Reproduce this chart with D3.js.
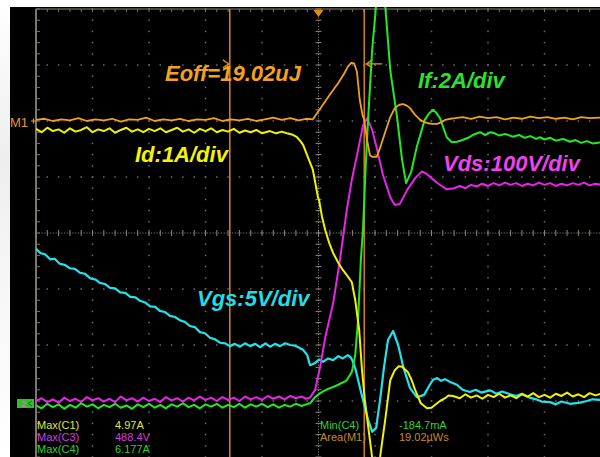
<!DOCTYPE html>
<html>
<head>
<meta charset="utf-8">
<script src="https://cdn.jsdelivr.net/npm/d3@7"></script>
<style>
  html, body { margin: 0; padding: 0; background: #fff; overflow: hidden; }
  svg { display: block; }
</style>
</head>
<body>
<svg id="scope" width="600" height="457"></svg>
<script>
// Screen grid: 10 horizontal divisions, 8 vertical divisions (centre = 0).
const timeDivs = [0, 10];
const voltDivs = [-4, 4];

// Turn-off waveforms, [time (div), level (div)]
const mathM1 = [
  [0.00,2.02],[0.15,2.04],[0.30,2.00],[0.45,2.03],[0.60,2.01],[0.75,2.05],[0.90,2.00],[1.05,2.03],[1.20,2.01],[1.35,2.04],
  [1.50,1.99],[1.65,2.03],[1.80,2.02],[1.95,2.06],[2.10,2.00],[2.25,2.03],[2.40,2.01],[2.55,2.04],[2.70,2.00],[2.85,2.03],
  [3.00,2.02],[3.15,2.05],[3.30,2.00],[3.45,2.03],[3.60,2.01],[3.75,2.04],[3.90,2.00],[4.05,2.03],[4.20,2.06],[4.35,2.02],
  [4.50,2.05],[4.65,2.01],[4.78,2.04],[4.90,2.03],[5.05,2.25],[5.20,2.47],[5.35,2.68],[5.45,2.84],[5.52,2.97],[5.58,3.04],
  [5.63,3.03],[5.68,2.88],[5.73,2.38],[5.78,2.10],[5.81,2.02],[5.86,1.66],[5.91,1.39],[5.95,1.36],[6.03,1.36],[6.09,1.52],
  [6.18,1.80],[6.27,2.07],[6.35,2.23],[6.43,2.29],[6.50,2.30],[6.57,2.27],[6.62,2.23],[6.71,2.11],[6.80,2.02],[6.87,1.98],
  [6.94,1.96],[7.02,1.95],[7.10,1.95],[7.18,1.98],[7.24,2.02],[7.33,2.04],[7.42,2.05],[7.55,2.07],[7.70,2.04],[7.85,2.08],
  [8.00,2.05],[8.15,2.07],[8.30,2.03],[8.45,2.06],[8.60,2.04],[8.75,2.08],[8.90,2.05],[9.05,2.07],[9.20,2.04],[9.35,2.06],
  [9.50,2.03],[9.65,2.07],[9.80,2.05],[10.00,2.06]
];

const idC1 = [
  [0.00,1.86],[0.10,1.80],[0.20,1.88],[0.30,1.82],[0.40,1.85],[0.50,1.79],[0.60,1.87],[0.70,1.81],[0.80,1.84],[0.90,1.89],
  [1.00,1.80],[1.10,1.85],[1.20,1.82],[1.30,1.87],[1.40,1.79],[1.50,1.84],[1.60,1.88],[1.70,1.81],[1.80,1.85],[1.90,1.80],
  [2.00,1.86],[2.10,1.82],[2.20,1.87],[2.30,1.80],[2.40,1.84],[2.50,1.88],[2.60,1.81],[2.70,1.85],[2.80,1.79],[2.90,1.86],
  [3.00,1.82],[3.10,1.87],[3.20,1.80],[3.30,1.84],[3.40,1.81],[3.50,1.86],[3.60,1.79],[3.70,1.83],[3.80,1.80],[3.90,1.84],
  [4.00,1.78],[4.14,1.82],[4.25,1.78],[4.35,1.81],[4.44,1.78],[4.53,1.76],[4.62,1.71],[4.68,1.64],[4.73,1.57],[4.81,1.36],
  [4.90,1.13],[4.99,0.64],[5.01,0.59],[5.06,0.30],[5.12,0.05],[5.19,-0.18],[5.26,-0.36],[5.35,-0.53],[5.43,-0.66],[5.52,-0.78],
  [5.59,-0.88],[5.65,-1.20],[5.72,-1.73],[5.77,-2.45],[5.82,-2.98],[5.88,-3.46],[5.96,-4.09],[6.02,-4.23],[6.09,-4.00],[6.18,-3.34],
  [6.27,-2.63],[6.35,-2.45],[6.42,-2.38],[6.48,-2.39],[6.58,-2.48],[6.65,-2.63],[6.71,-2.80],[6.81,-3.04],[6.92,-3.13],[7.00,-3.12],
  [7.06,-3.07],[7.15,-3.00],[7.24,-2.95],[7.30,-2.90],[7.38,-2.91],[7.50,-2.95],[7.60,-2.88],[7.70,-2.94],[7.80,-2.90],[7.90,-2.96],
  [8.00,-2.89],[8.10,-2.93],[8.20,-2.87],[8.30,-2.94],[8.40,-2.90],[8.50,-2.95],[8.60,-2.88],[8.70,-2.92],[8.80,-2.86],[8.90,-2.93],
  [9.00,-2.89],[9.10,-2.94],[9.20,-2.87],[9.30,-2.91],[9.40,-2.85],[9.50,-2.92],[9.60,-2.88],[9.70,-2.93],[9.80,-2.86],[9.90,-2.90],
  [10.00,-2.87]
];

const vdsC3 = [
  [0.00,-3.00],[0.10,-2.95],[0.20,-3.02],[0.30,-2.97],[0.40,-3.03],[0.50,-2.94],[0.60,-3.00],[0.70,-2.96],[0.80,-3.02],[0.90,-2.93],
  [1.00,-2.99],[1.10,-2.95],[1.20,-3.01],[1.30,-2.96],[1.40,-3.02],[1.50,-2.92],[1.60,-2.99],[1.70,-2.95],[1.80,-3.01],[1.90,-2.94],
  [2.00,-3.00],[2.10,-2.96],[2.20,-3.02],[2.30,-2.93],[2.40,-2.99],[2.50,-2.95],[2.60,-3.01],[2.70,-2.94],[2.80,-2.99],[2.90,-2.92],
  [3.00,-2.98],[3.10,-2.94],[3.20,-3.00],[3.30,-2.93],[3.40,-2.98],[3.50,-2.94],[3.60,-3.00],[3.70,-2.92],[3.80,-2.97],[3.90,-2.93],
  [4.00,-2.98],[4.10,-2.91],[4.20,-2.96],[4.30,-2.92],[4.40,-2.97],[4.50,-2.91],[4.60,-2.95],[4.70,-2.92],[4.78,-2.96],[4.85,-2.94],
  [4.94,-2.80],[5.03,-2.39],[5.12,-1.86],[5.26,-1.25],[5.38,-0.48],[5.50,0.41],[5.59,0.95],[5.70,1.48],[5.79,1.93],[5.86,2.05],
  [5.95,1.84],[6.04,1.48],[6.14,1.04],[6.27,0.64],[6.35,0.50],[6.44,0.52],[6.57,0.77],[6.71,0.98],[6.83,1.10],[6.92,1.05],
  [7.00,0.98],[7.12,0.88],[7.27,0.78],[7.40,0.80],[7.50,0.84],[7.60,0.80],[7.70,0.86],[7.80,0.83],[7.90,0.88],[8.00,0.84],
  [8.10,0.89],[8.20,0.85],[8.30,0.90],[8.40,0.86],[8.50,0.89],[8.60,0.84],[8.70,0.88],[8.80,0.85],[8.90,0.90],[9.00,0.86],
  [9.10,0.89],[9.20,0.84],[9.30,0.88],[9.40,0.85],[9.50,0.89],[9.60,0.86],[9.70,0.90],[9.80,0.85],[9.90,0.88],[10.00,0.86]
];

const ifC4 = [
  [0.00,-3.08],[0.10,-3.13],[0.20,-3.05],[0.30,-3.11],[0.40,-3.06],[0.50,-3.14],[0.60,-3.07],[0.70,-3.12],[0.80,-3.04],[0.90,-3.10],
  [1.00,-3.06],[1.10,-3.13],[1.20,-3.07],[1.30,-3.11],[1.40,-3.05],[1.50,-3.12],[1.60,-3.08],[1.70,-3.14],[1.80,-3.06],[1.90,-3.11],
  [2.00,-3.05],[2.10,-3.12],[2.20,-3.07],[2.30,-3.13],[2.40,-3.06],[2.50,-3.10],[2.60,-3.04],[2.70,-3.11],[2.80,-3.07],[2.90,-3.13],
  [3.00,-3.06],[3.10,-3.10],[3.20,-3.05],[3.30,-3.12],[3.40,-3.07],[3.50,-3.11],[3.60,-3.05],[3.70,-3.12],[3.80,-3.06],[3.90,-3.10],
  [4.00,-3.05],[4.10,-3.11],[4.20,-3.06],[4.30,-3.12],[4.40,-3.07],[4.50,-3.10],[4.60,-3.05],[4.70,-3.09],[4.78,-3.06],[4.85,-3.04],
  [4.94,-2.93],[5.03,-2.86],[5.10,-2.82],[5.18,-2.78],[5.26,-2.75],[5.35,-2.71],[5.43,-2.67],[5.50,-2.63],[5.59,-2.48],[5.65,-2.18],
  [5.70,-1.55],[5.75,-0.48],[5.79,0.11],[5.84,1.30],[5.88,2.07],[5.95,3.27],[6.02,4.07],[6.09,4.50],[6.18,4.07],[6.27,2.91],
  [6.39,2.07],[6.48,1.30],[6.55,0.89],[6.64,1.09],[6.74,1.54],[6.88,2.02],[6.96,2.14],[7.03,2.20],[7.09,2.14],[7.15,2.05],
  [7.27,1.71],[7.36,1.62],[7.45,1.63],[7.55,1.66],[7.65,1.70],[7.75,1.76],[7.86,1.80],[7.95,1.75],[8.05,1.80],[8.12,1.78],
  [8.20,1.74],[8.30,1.77],[8.44,1.72],[8.55,1.75],[8.65,1.70],[8.75,1.73],[8.85,1.68],[8.92,1.71],[9.00,1.67],[9.10,1.70],
  [9.20,1.65],[9.33,1.68],[9.45,1.63],[9.55,1.66],[9.65,1.61],[9.75,1.64],[9.85,1.60],[10.00,1.62]
];

const vgsC2 = [
  [0.00,-0.28],[0.08,-0.36],[0.16,-0.38],[0.25,-0.47],[0.33,-0.46],[0.42,-0.55],[0.51,-0.57],[0.60,-0.63],[0.69,-0.64],[0.78,-0.71],
  [0.87,-0.73],[0.96,-0.81],[1.05,-0.83],[1.13,-0.89],[1.22,-0.91],[1.31,-0.98],[1.40,-0.99],[1.49,-1.06],[1.58,-1.07],[1.67,-1.14],
  [1.76,-1.15],[1.84,-1.21],[1.93,-1.24],[2.02,-1.31],[2.11,-1.32],[2.19,-1.39],[2.28,-1.41],[2.37,-1.48],[2.46,-1.50],[2.55,-1.56],
  [2.64,-1.59],[2.72,-1.66],[2.81,-1.68],[2.90,-1.77],[2.99,-1.79],[3.08,-1.87],[3.17,-1.90],[3.26,-1.96],[3.35,-1.97],[3.43,-2.02],
  [3.52,-1.98],[3.61,-2.03],[3.70,-1.97],[3.79,-2.02],[3.88,-1.98],[3.97,-2.04],[4.06,-1.97],[4.14,-2.03],[4.23,-1.98],[4.32,-2.02],
  [4.41,-1.97],[4.50,-2.00],[4.58,-2.01],[4.66,-2.05],[4.73,-2.09],[4.80,-2.18],[4.85,-2.36],[4.94,-2.32],[5.01,-2.26],[5.08,-2.30],
  [5.17,-2.24],[5.26,-2.27],[5.35,-2.20],[5.43,-2.24],[5.52,-2.18],[5.57,-2.22],[5.61,-2.30],[5.66,-2.45],[5.73,-2.75],[5.81,-3.07],
  [5.88,-3.34],[5.95,-3.55],[6.02,-3.48],[6.09,-2.98],[6.16,-2.39],[6.23,-1.91],[6.32,-1.75],[6.41,-2.00],[6.50,-2.39],[6.62,-2.77],
  [6.74,-2.93],[6.87,-2.89],[6.97,-2.71],[7.03,-2.62],[7.10,-2.59],[7.17,-2.64],[7.24,-2.61],[7.33,-2.66],[7.45,-2.71],[7.55,-2.80],
  [7.68,-2.84],[7.78,-2.80],[7.88,-2.85],[8.04,-2.81],[8.15,-2.87],[8.25,-2.83],[8.39,-2.88],[8.50,-2.91],[8.60,-2.87],[8.74,-2.94],
  [8.85,-2.97],[8.95,-3.01],[9.10,-3.02],[9.20,-3.06],[9.30,-3.01],[9.45,-3.05],[9.63,-3.03],[9.75,-3.00],[9.85,-2.97],[10.00,-2.98]
];

// Cursor positions (div) and trigger position
const cursorTimes = [3.43, 5.81];
const triggerTime = 5;

// Channel scale annotations
const channelNotes = [
  { text: "Eoff=19.02uJ",  color: "#f3a21f" },
  { text: "Id:1A/div",     color: "#f4f400" },
  { text: "If:2A/div",     color: "#2ee02e" },
  { text: "Vds:100V/div",  color: "#ec44ec" },
  { text: "Vgs:5V/div",    color: "#22dde4" }
];

// Measurement readouts
const measLeftNames   = ["Max(C1)", "Max(C3)", "Max(C4)"];
const measLeftValues  = ["4.97A", "488.4V", "6.177A"];
const measLeftColors  = ["#e2e23c", "#d63cd6", "#2ed02e"];
const measRightNames  = ["Min(C4)", "Area(M1)"];
const measRightValues = ["-184.7mA", "19.02\u00B5Ws"];
const measRightColors = ["#2ed02e", "#c98a22"];

// ---------------------------------------------------------------------------
const svg = d3.select("#scope");
const W = 600, H = 457;
const x = d3.scaleLinear().domain(timeDivs).range([36, 601]);
const y = d3.scaleLinear().domain(voltDivs).range([457, 9]);

const defs = svg.append("defs");
const lg = defs.append("linearGradient").attr("id", "edge").attr("x1", 0).attr("x2", 0).attr("y1", 0).attr("y2", 1);
lg.append("stop").attr("offset", "0%").attr("stop-color", "#ffffff");
lg.append("stop").attr("offset", "35%").attr("stop-color", "#eeeeee");
lg.append("stop").attr("offset", "60%").attr("stop-color", "#f6f6f6");
lg.append("stop").attr("offset", "100%").attr("stop-color", "#ffffff");
defs.append("clipPath").attr("id", "screen")
  .append("rect").attr("x", x(0)).attr("y", 7).attr("width", W - x(0)).attr("height", H - 7);

// Bezel and black screen
svg.append("rect").attr("width", W).attr("height", H).attr("fill", "#ffffff");
svg.append("rect").attr("x", 0).attr("y", 0).attr("width", 10).attr("height", H).attr("fill", "url(#edge)");
svg.append("rect").attr("x", 10).attr("y", 7).attr("width", W - 10).attr("height", H - 7).attr("fill", "#000");

// Graticule
const grid = svg.append("g");
const dotColor = "#6b6b66";
const majorT = d3.range(1, 10);
const majorV = d3.range(-3, 4).filter(v => v !== 0);
const subT = d3.range(0, 10.001, 0.2);
const subV = d3.range(-4, 4.001, 0.2);

majorT.filter(t => t !== 5).forEach(t => {
  grid.selectAll(null).data(subV).join("rect")
    .attr("x", x(t) - 0.75).attr("y", v => y(v) - 0.75)
    .attr("width", 1.5).attr("height", 1.5).attr("fill", dotColor);
});
majorV.forEach(v => {
  grid.selectAll(null).data(subT).join("rect")
    .attr("x", t => x(t) - 0.75).attr("y", y(v) - 0.75)
    .attr("width", 1.5).attr("height", 1.5).attr("fill", dotColor);
});

// Centre axes with minor ticks
grid.append("line").attr("x1", x(0)).attr("x2", x(10)).attr("y1", y(0)).attr("y2", y(0))
  .attr("stroke", "#77756c").attr("stroke-width", 1).attr("stroke-dasharray", "1.2,1.6");
grid.append("line").attr("x1", x(5)).attr("x2", x(5)).attr("y1", y(4)).attr("y2", y(-4))
  .attr("stroke", "#77756c").attr("stroke-width", 1).attr("stroke-dasharray", "1.2,1.6");
grid.selectAll(null).data(subT).join("line")
  .attr("x1", t => x(t)).attr("x2", t => x(t)).attr("y1", y(0) - 3).attr("y2", y(0) + 3)
  .attr("stroke", "#8a877c").attr("stroke-width", 1);
grid.selectAll(null).data(subV).join("line")
  .attr("x1", x(5) - 3).attr("x2", x(5) + 3).attr("y1", v => y(v)).attr("y2", v => y(v))
  .attr("stroke", "#8a877c").attr("stroke-width", 1);

// Frame edges with ticks
grid.append("line").attr("x1", x(0)).attr("x2", x(0)).attr("y1", y(4)).attr("y2", H)
  .attr("stroke", "#8c8674").attr("stroke-width", 1.8);
grid.append("line").attr("x1", x(0)).attr("x2", W).attr("y1", y(4)).attr("y2", y(4))
  .attr("stroke", "#8c8674").attr("stroke-width", 1.2);
grid.selectAll(null).data(subV).join("line")
  .attr("x1", x(0)).attr("x2", x(0) + 4).attr("y1", v => y(v)).attr("y2", v => y(v))
  .attr("stroke", "#77756c").attr("stroke-width", 1);
grid.selectAll(null).data(subT).join("line")
  .attr("x1", t => x(t)).attr("x2", t => x(t)).attr("y1", y(4)).attr("y2", y(4) + 3)
  .attr("stroke", "#77756c").attr("stroke-width", 1);

// Cursors
const cur = svg.append("g");
cur.selectAll(null).data(cursorTimes).join("line")
  .attr("x1", d => x(d)).attr("x2", d => x(d)).attr("y1", y(4)).attr("y2", H)
  .attr("stroke", "#c8801c").attr("stroke-width", 1.6);

// Traces
const line = d3.line().x(d => x(d[0])).y(d => y(d[1]));
const traces = svg.append("g").attr("clip-path", "url(#screen)")
  .attr("fill", "none").attr("stroke-linejoin", "round");
[
  [vgsC2,  "#22e2ea", 2.2],
  [vdsC3,  "#e824e8", 2.0],
  [ifC4,   "#22ea22", 2.0],
  [idC1,   "#f2f200", 2.0],
  [mathM1, "#f1a11e", 1.8]
].forEach(([data, color, w]) => {
  traces.append("path").attr("d", line(data)).attr("stroke", color).attr("stroke-width", w);
});

// Cursor arrows
const arrowY = y(3.02);
cur.append("path")
  .attr("d", `M${x(cursorTimes[0]) - 7},${arrowY - 4} L${x(cursorTimes[0]) - 1},${arrowY} L${x(cursorTimes[0]) - 7},${arrowY + 4}`)
  .attr("fill", "none").attr("stroke", "#d88a1e").attr("stroke-width", 1.4);
cur.append("line").attr("x1", x(cursorTimes[1]) + 2).attr("x2", x(cursorTimes[1]) + 18)
  .attr("y1", arrowY).attr("y2", arrowY).attr("stroke", "#d88a1e").attr("stroke-width", 1.4);
cur.append("path")
  .attr("d", `M${x(cursorTimes[1]) + 8},${arrowY - 4} L${x(cursorTimes[1]) + 2},${arrowY} L${x(cursorTimes[1]) + 8},${arrowY + 4}`)
  .attr("fill", "none").attr("stroke", "#d88a1e").attr("stroke-width", 1.4);

// Trigger marker
svg.append("path")
  .attr("d", `M${x(triggerTime) - 5},${y(4) + 1} L${x(triggerTime) + 5},${y(4) + 1} L${x(triggerTime)},${y(4) + 8} Z`)
  .attr("fill", "#e0891f");

// Reference markers on the left edge
svg.append("text").attr("x", 10).attr("y", 127)
  .attr("font-family", "Liberation Sans, Arial, sans-serif").attr("font-size", 13)
  .attr("fill", "#e09a26").text("M1");
svg.append("path").attr("d", "M31,121 L36,121 M33.5,118.5 L33.5,123.5")
  .attr("stroke", "#e09a26").attr("stroke-width", 1.2);
svg.append("rect").attr("x", 17).attr("y", 399).attr("width", 17).attr("height", 9).attr("fill", "#2fbf2f");
svg.append("text").attr("x", 21).attr("y", 407)
  .attr("font-family", "Liberation Sans, Arial, sans-serif").attr("font-size", 9).attr("font-weight", "bold")
  .attr("fill", "#b48a9a").text("2");
svg.append("path").attr("d", "M32,401 L28,403.5 L32,406").attr("fill", "none")
  .attr("stroke", "#1b6e1b").attr("stroke-width", 1);

// Channel annotations
const notePos = [[165, 81], [135, 162], [418, 88], [443, 171], [197, 306]];
svg.append("g").selectAll("text").data(channelNotes).join("text")
  .attr("x", (d, i) => notePos[i][0]).attr("y", (d, i) => notePos[i][1])
  .attr("font-family", "Liberation Sans, Arial, sans-serif")
  .attr("font-size", 22).attr("font-style", "italic").attr("font-weight", "bold")
  .attr("fill", d => d.color).text(d => d.text);

// Measurement readouts
const meas = svg.append("g").attr("font-family", "Liberation Sans, Arial, sans-serif").attr("font-size", 11);
const rowY = i => 429 + i * 12;
meas.selectAll(null).data(measLeftNames).join("text")
  .attr("x", 37).attr("y", (d, i) => rowY(i)).attr("fill", (d, i) => measLeftColors[i]).text(d => d);
meas.selectAll(null).data(measLeftValues).join("text")
  .attr("x", 115).attr("y", (d, i) => rowY(i)).attr("fill", (d, i) => measLeftColors[i]).text(d => d);
meas.selectAll(null).data(measRightNames).join("text")
  .attr("x", 320).attr("y", (d, i) => rowY(i)).attr("fill", (d, i) => measRightColors[i]).text(d => d);
meas.selectAll(null).data(measRightValues).join("text")
  .attr("x", 399).attr("y", (d, i) => rowY(i)).attr("fill", (d, i) => measRightColors[i]).text(d => d);
</script>
</body>
</html>
